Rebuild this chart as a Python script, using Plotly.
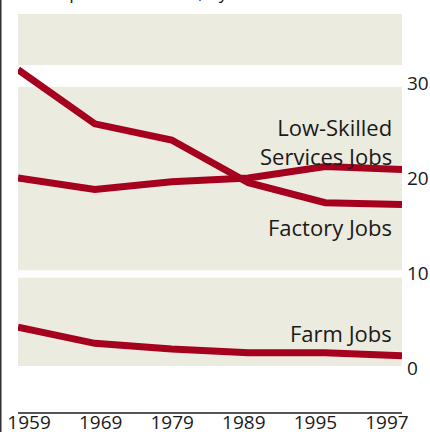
import plotly.graph_objects as go

years = ["1959", "1969", "1979", "1989", "1995", "1997"]
factory = [31.4, 25.7, 24.0, 19.5, 17.4, 17.2]
low_skilled = [20.0, 18.8, 19.6, 20.0, 21.2, 20.9]
farm = [4.3, 2.6, 2.0, 1.6, 1.6, 1.3]
series_labels = ["Low-Skilled<br>Services Jobs", "Factory Jobs", "Farm Jobs"]
label_values = [23.8, 14.8, 3.7]
y_ticks = [0, 10, 20, 30]

RED = "#A6001F"
BEIGE = "#ECEBE0"
FONT = "Open Sans"

idx = list(range(len(years)))
fig = go.Figure()
for vals in (factory, low_skilled, farm):
    fig.add_trace(go.Scatter(x=idx, y=vals, mode="lines",
                             line=dict(color=RED, width=7),
                             hoverinfo="skip", showlegend=False))

# beige bands with white gaps
bands = [(31.9, 37.3), (10.3, 29.6), (0.2, 9.5)]
for y0, y1 in bands:
    fig.add_shape(type="rect", xref="paper", yref="y", x0=0, x1=1, y0=y0, y1=y1,
                  fillcolor=BEIGE, line=dict(width=0), layer="below")

# left edge rule
fig.add_shape(type="line", xref="paper", yref="paper", x0=-0.0455, x1=-0.0455,
              y0=-0.06, y1=1.06, line=dict(color="#333333", width=2))

for txt, v in zip(series_labels, label_values):
    fig.add_annotation(x=5, y=v, xref="x", yref="y", text=txt, showarrow=False,
                       xanchor="right", align="right", xshift=-8,
                       font=dict(family=FONT, size=22, color="#1a1a1a"))

fig.add_annotation(x=0.026, y=1.02, xref="paper", yref="paper",
                   text="As a percent of total, by sector", showarrow=False,
                   xanchor="left", yanchor="bottom",
                   font=dict(family=FONT, size=18, color="#1a1a1a"))

fig.update_layout(
    width=430, height=432,
    margin=dict(l=18, r=28, t=14, b=20),
    paper_bgcolor="white", plot_bgcolor="white",
    font=dict(family=FONT, size=17, color="#1a1a1a"),
    xaxis=dict(range=[0, 5], showticklabels=False, ticks="", showgrid=False,
               zeroline=False, showline=True, linecolor="#555555", linewidth=1.5,
               automargin=False),
    xaxis2=dict(overlaying="x", side="bottom", range=[-0.1545, 5.21],
                tickmode="array", tickvals=idx, ticktext=years, showgrid=False,
                zeroline=False, showline=False, ticks="", ticklabelstandoff=-3,
                automargin=False,
                tickfont=dict(family=FONT, size=19, color="#1a1a1a")),
    yaxis=dict(range=[-4.63, 37.26], side="right", tickmode="array",
               tickvals=y_ticks, showgrid=False, zeroline=False, showline=False,
               ticks="", automargin=False, ticklabelstandoff=4,
               tickfont=dict(family=FONT, size=19, color="#1a1a1a")),
)
# invisible trace to anchor xaxis2
fig.add_trace(go.Scatter(x=[0], y=[0], xaxis="x2", mode="markers",
                         marker=dict(opacity=0), hoverinfo="skip", showlegend=False))
fig.write_html("out.html")
